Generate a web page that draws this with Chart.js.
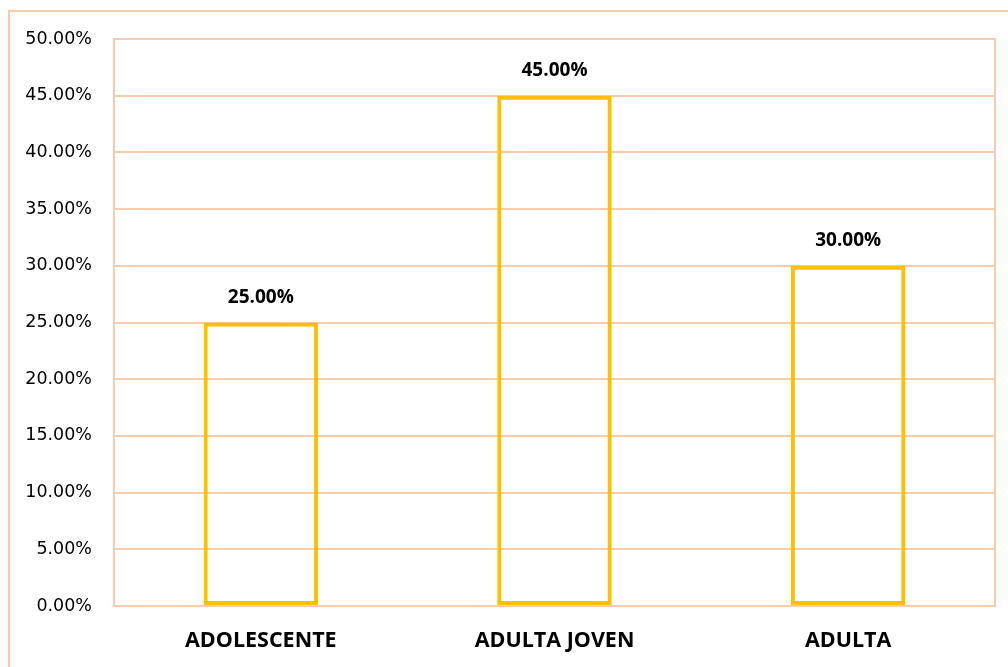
<!DOCTYPE html>
<html>
<head>
<meta charset="utf-8">
<script src="https://cdn.jsdelivr.net/npm/chart.js@4"></script>
<style>
  html, body { margin: 0; padding: 0; background: #fff; }
  #wrap { position: relative; width: 1008px; height: 667px; }
</style>
</head>
<body>
<div id="wrap"><canvas id="chart"></canvas></div>
<script>
// chart data
const categories = ["ADOLESCENTE", "ADULTA JOVEN", "ADULTA"];
const percentValues = [25, 45, 30];
const yTickMax = 50;
const yTickStep = 5;

const peach = "#F8CBAD";
const gold = "#FFC000";
const boldFont = "'Open Sans'";

// outer frame (cut off at right and bottom) + plot area border
const framePlugin = {
  id: "frame",
  beforeDraw(chart) {
    const ctx = chart.ctx;
    ctx.save();
    ctx.strokeStyle = peach;
    ctx.lineWidth = 2;
    ctx.beginPath();
    ctx.moveTo(9, chart.height);
    ctx.lineTo(9, 11);
    ctx.lineTo(chart.width, 11);
    ctx.stroke();
    ctx.restore();
  },
  afterDatasetsDraw(chart) {
    const ctx = chart.ctx;
    const a = chart.chartArea;
    ctx.save();
    ctx.strokeStyle = peach;
    ctx.lineWidth = 2;
    ctx.strokeRect(a.left, a.top, a.right - a.left, a.bottom - a.top);
    ctx.restore();
  }
};

// value labels above each bar
const valueLabels = {
  id: "valueLabels",
  afterDatasetsDraw(chart) {
    const ctx = chart.ctx;
    const meta = chart.getDatasetMeta(0);
    ctx.save();
    ctx.font = "bold 19px " + boldFont;
    ctx.fillStyle = "#000";
    ctx.textAlign = "center";
    ctx.textBaseline = "middle";
    meta.data.forEach((bar, i) => {
      ctx.fillText(percentValues[i].toFixed(2) + "%", bar.x, bar.y - 25);
    });
    ctx.restore();
  }
};

new Chart(document.getElementById("chart"), {
  type: "bar",
  data: {
    labels: categories,
    datasets: [{
      data: percentValues,
      backgroundColor: "rgba(255,255,255,0)",
      borderColor: gold,
      borderWidth: 4,
      borderSkipped: false,
      barPercentage: 0.39,
      categoryPercentage: 1
    }]
  },
  options: {
    responsive: true,
    maintainAspectRatio: false,
    animation: false,
    layout: { padding: { top: 39, right: 13, bottom: 0, left: 0 } },
    plugins: { legend: { display: false }, tooltip: { enabled: false } },
    scales: {
      x: {
        grid: { display: false, drawTicks: false },
        border: { display: false },
        ticks: {
          color: "#000",
          font: { family: boldFont, size: 21.5, weight: "bold" },
          padding: 22,
          maxRotation: 0
        },
        afterFit(scale) { scale.height = 61; }
      },
      y: {
        min: 0,
        max: yTickMax,
        grid: { color: peach, lineWidth: 2, drawTicks: false },
        border: { display: false },
        ticks: {
          stepSize: yTickStep,
          color: "#000",
          font: { family: "DejaVu Sans", size: 17.5 },
          padding: 22,
          callback: v => v.toFixed(2) + "%"
        },
        afterFit(scale) { scale.width = 114; }
      }
    }
  },
  plugins: [framePlugin, valueLabels]
});
</script>
</body>
</html>
